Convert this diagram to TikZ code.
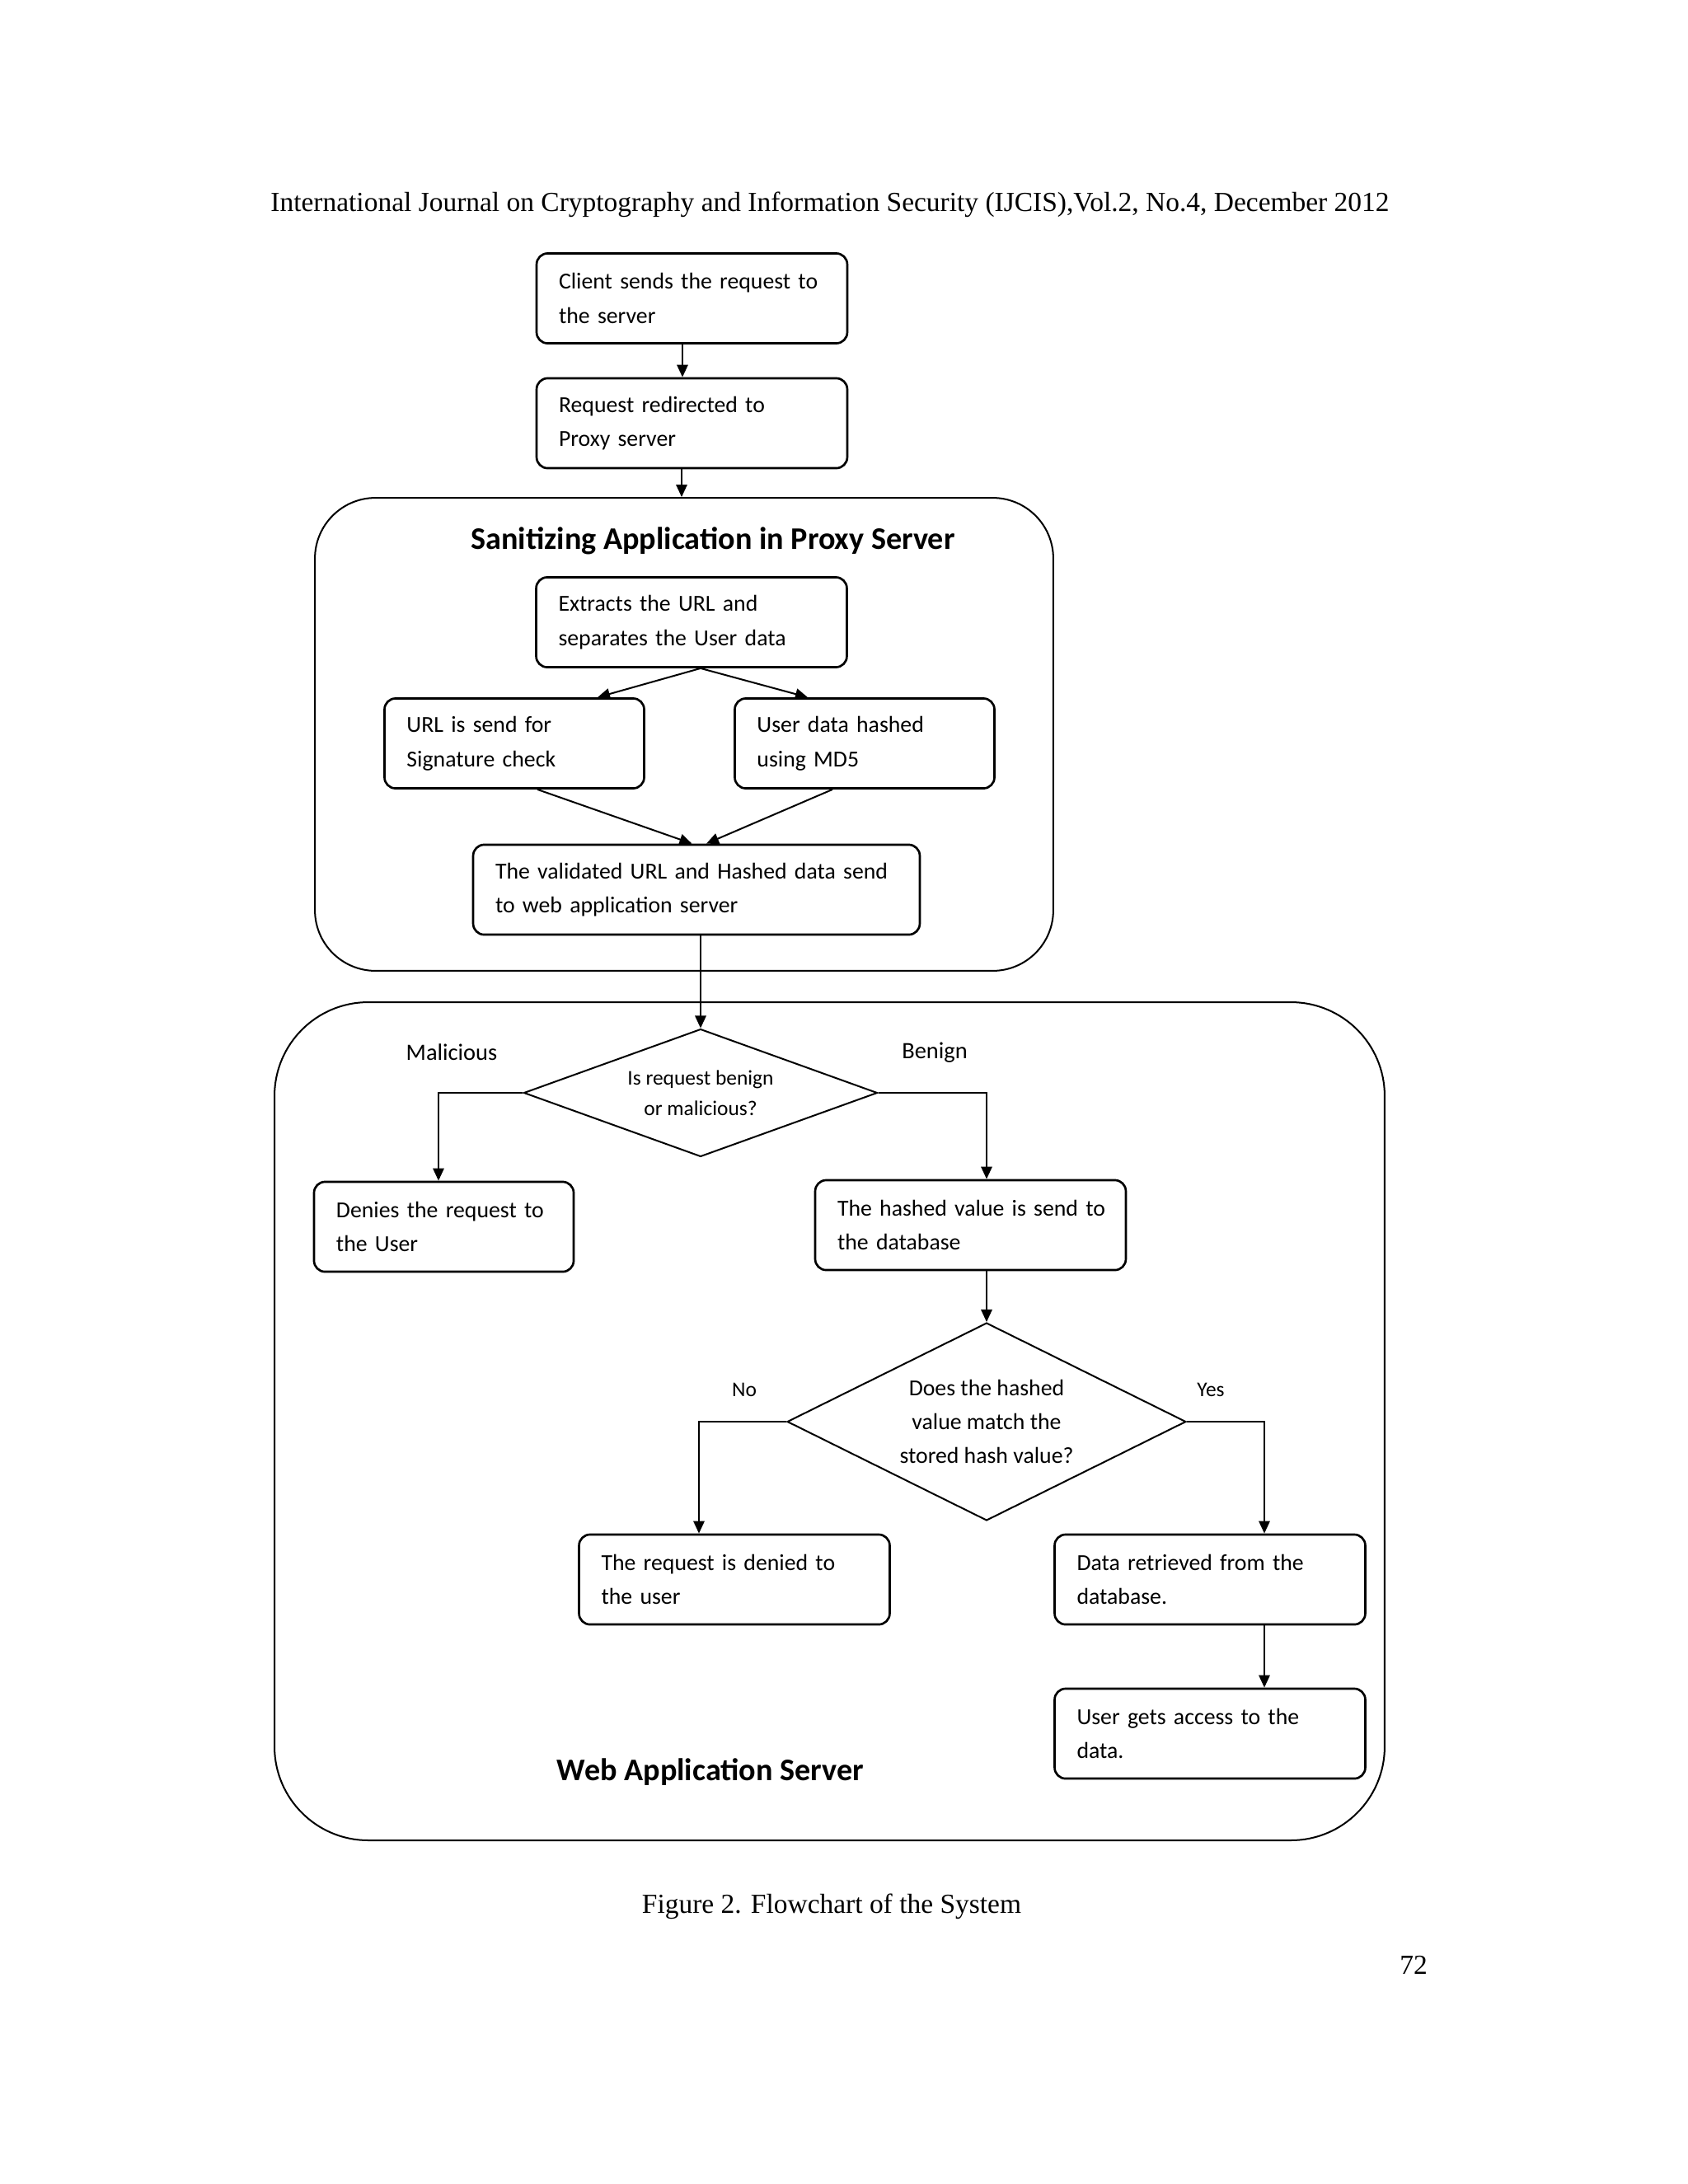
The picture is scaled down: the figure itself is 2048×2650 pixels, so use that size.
\documentclass[tikz,border=0pt]{standalone}
\usepackage{fontspec}
\setmainfont{Liberation Serif}
\newfontfamily\carlito{Carlito}
\usetikzlibrary{shapes.geometric,arrows.meta,calc}
\begin{document}
\begin{tikzpicture}[x=0.29883pt,y=-0.29883pt,
  box/.style={draw, line width=0.8pt, rounded corners=4pt, inner xsep=8.07pt, inner ysep=0pt,
    minimum height=32.6pt, align=left, font=\carlito\fontsize{8.3}{12.5}\selectfont},
  w377/.style={text width=96.5pt},
  w315/.style={text width=78pt},
  w542/.style={text width=145.8pt},
  container/.style={draw, line width=0.6pt},
  dia/.style={diamond, draw, line width=0.6pt, inner sep=0pt, align=center},
  lbl/.style={font=\carlito\fontsize{8.5}{12.5}\selectfont, inner sep=0pt},
  small/.style={font=\carlito\fontsize{7.6}{11}\selectfont, inner sep=0pt},
  ttl/.style={font=\carlito\bfseries\fontsize{11.4}{13}\selectfont, inner sep=0pt},
  page/.style={font=\fontsize{10}{12}\selectfont, inner sep=0pt},
  arr/.style={line width=0.6pt, -{Triangle[length=4.5pt,width=4pt]}},
  ln/.style={line width=0.6pt}]
\path[use as bounding box, fill=white] (0,0) rectangle (2048,2650);

% header, caption, page number
\node[page] (hdr) at (1007,248)
  {International Journal on Cryptography and Information Security (IJCIS),Vol.2, No.4, December 2012};
\node[page] (cap) at (1009,2313) {Figure 2. Flowchart of the System};
\node[page] (pg) at (1715,2384) {72};

% containers
\node[container, rounded corners=22pt, minimum width=267.7pt, minimum height=171.5pt] (proxy) at (830,891) {};
\node[container, rounded corners=34pt, minimum width=402.5pt, minimum height=303.9pt] (web) at (1006.5,1724.5) {};
\node[ttl] (t1) at (865,656) {Sanitizing Application in Proxy Server};
\node[ttl] (t2) at (862,2150) {Web Application Server};

% top boxes
\node[box, w377] (b1) at (839.5,362) {\mbox{Client sends the request to}\\\mbox{the server}};
\node[box, w377] (b2) at (839.5,513.5) {\mbox{Request redirected to}\\\mbox{Proxy server}};

% proxy boxes
\node[box, w377] (b3) at (839,755) {\mbox{Extracts the URL and}\\\mbox{separates the User data}};
\node[box, w315] (b4) at (624,902) {\mbox{URL is send for}\\\mbox{Signature check}};
\node[box, w315] (b5) at (1049,902) {\mbox{User data hashed}\\\mbox{using MD5}};
\node[box, w542] (b6) at (845,1079.5) {\mbox{The validated URL and Hashed data send}\\\mbox{to web application server}};

% web boxes
\node[dia, aspect=2.77, minimum width=128.2pt, minimum height=46.3pt, small] (d1) at (850,1326) {Is request benign\\or malicious?};
\node[lbl] (mal) at (548,1277) {Malicious};
\node[lbl] (ben) at (1134,1277) {Benign};
\node[box, w315] (b7) at (538.5,1488.5) {\mbox{Denies the request to}\\\mbox{the User}};
\node[box, w377] (b8) at (1177.5,1486.5) {\mbox{The hashed value is send to}\\\mbox{the database}};
\node[dia, aspect=2.02, minimum width=144.6pt, minimum height=71.7pt, font=\carlito\fontsize{8.3}{12.2}\selectfont] (d2) at (1197,1725)
  {Does the hashed\\value match the\\stored hash value?};
\node[small] (no) at (903,1686) {No};
\node[small] (yes) at (1469,1686) {Yes};
\node[box, w377] (b9) at (891,1916.5) {\mbox{The request is denied to}\\\mbox{the user}};
\node[box, w377] (b10) at (1468,1916.5) {\mbox{Data retrieved from the}\\\mbox{database.}};
\node[box, w377] (b11) at (1468,2103.5) {\mbox{User gets access to the}\\\mbox{data.}};

% connectors
\coordinate (c1) at ($(b1.south)+(-11.5,0)$);
\coordinate (c2) at ($(b2.south)+(-12.5,0)$);
\draw[arr] (c1) -- (c1 |- b2.north);
\draw[arr] (c2) -- (c2 |- proxy.north);
\coordinate (c3) at ($(b3.south)+(11,0)$);
\draw[arr] (c3) -- ($(b4.north)+(101,0)$);
\draw[arr] (c3) -- ($(b5.north)+(-69,0)$);
\draw[arr] ($(b4.south)+(28,0)$) -- ($(b6.north)+(-5.5,0)$);
\draw[arr] ($(b5.south)+(-39,0)$) -- ($(b6.north)+(12,0)$);
\draw[arr] (b6.south -| d1.north) -- (d1.north);
\draw[arr] (d1.west) -| ($(b7.north)+(-6.5,0)$);
\draw[arr] (d1.east) -| (d2.north |- b8.north);
\draw[arr] (b8.south -| d2.north) -- (d2.north);
\draw[arr] (d2.west) -| ($(b9.north)+(-43,0)$);
\coordinate (c4) at ($(b10.north)+(66,0)$);
\draw[arr] (d2.east) -| (c4);
\draw[arr] (c4 |- b10.south) -- (c4 |- b11.north);
\end{tikzpicture}
\end{document}
